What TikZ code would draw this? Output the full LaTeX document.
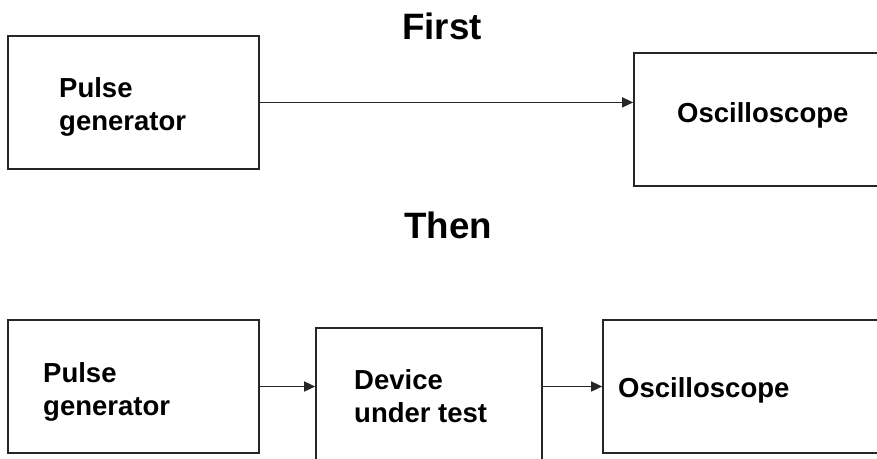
\documentclass[tikz,border=0pt]{standalone}
\usepackage{fontspec}
\setmainfont{Liberation Sans}
\usetikzlibrary{arrows.meta}
\begin{document}
\begin{tikzpicture}[x=1pt,y=-1pt,
  box/.style={draw=black!85,line width=1.7pt,rectangle,inner sep=0pt},
  lbl/.style={anchor=base west,inner sep=0pt,font=\fontsize{27.5}{33}\selectfont\bfseries},
  ttl/.style={anchor=base west,inner sep=0pt,font=\fontsize{36.7}{44}\selectfont\bfseries},
  conn/.style={draw=black!85,line width=1.6pt,-{Triangle[length=11pt,width=10pt]}}]
\useasboundingbox[fill=white] (0,0) rectangle (877,458);
% titles
\node[ttl] (t1) at (402,39) {First};
\node[ttl] (t2) at (404,238) {Then};
% top row
\node[box,minimum width=251pt,minimum height=133.5pt] (pg1) at (133.5,102.4) {};
\node[box,minimum width=260pt,minimum height=133pt] (os1) at (764,119.2) {};
\node[lbl] (pg1a) at (59,97) {Pulse};
\node[lbl] (pg1b) at (59,130) {generator};
\node[lbl] (os1a) at (677,122) {Oscilloscope};
\draw[conn] (pg1.east) -- (pg1.east -| os1.west);
% bottom row
\node[box,minimum width=251pt,minimum height=133pt] (pg2) at (133.5,386.5) {};
\node[box,minimum width=226pt,minimum height=150pt] (dut) at (429,403) {};
\node[box,minimum width=290pt,minimum height=133pt] (os2) at (748,386.5) {};
\node[lbl] (pg2a) at (43,382) {Pulse};
\node[lbl] (pg2b) at (43,415) {generator};
\node[lbl] (duta) at (354,389) {Device};
\node[lbl] (dutb) at (354,422) {under test};
\node[lbl] (os2a) at (618,397) {Oscilloscope};
\draw[conn] (pg2.east) -- (pg2.east -| dut.west);
\draw[conn] (pg2.east -| dut.east) -- (pg2.east -| os2.west);
\end{tikzpicture}
\end{document}
